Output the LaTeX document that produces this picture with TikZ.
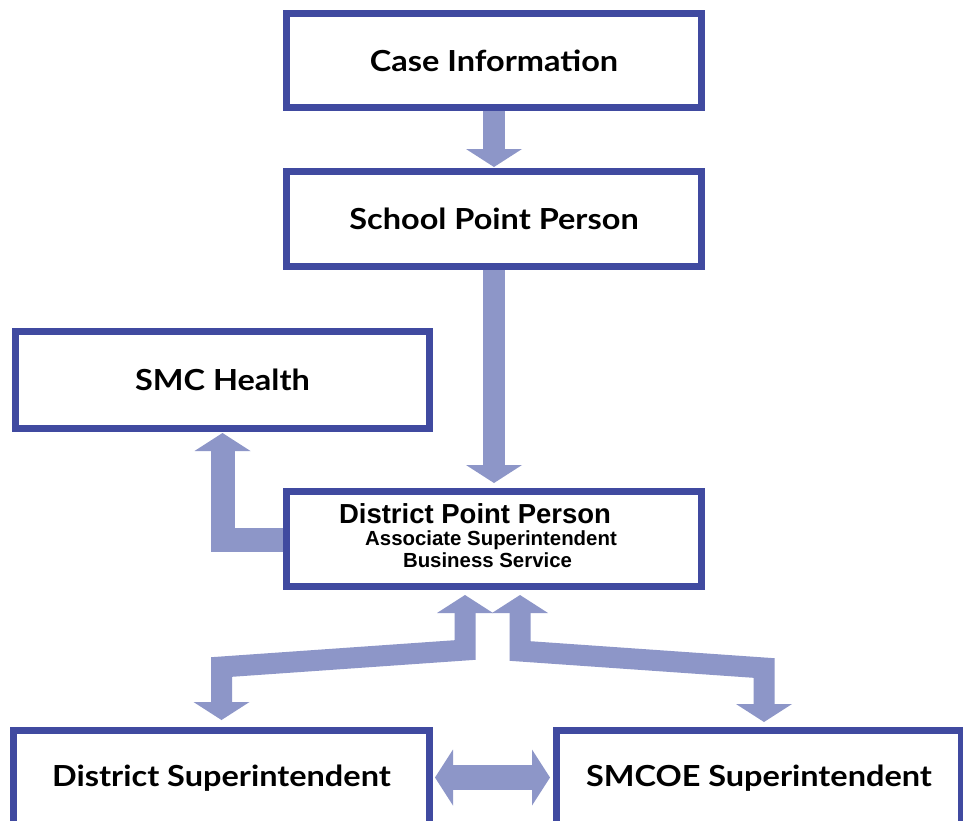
\documentclass[tikz,border=0pt]{standalone}
\usepackage{fontspec}
\setmainfont{Lato}[FakeStretch=1.12]
\newfontfamily\arialfont{Liberation Sans}
\usetikzlibrary{arrows.meta}
\definecolor{boxblue}{RGB}{64,74,160}
\definecolor{arrowblue}{RGB}{141,150,200}
\begin{document}
\begin{tikzpicture}[x=1pt,y=-1pt,
  box/.style={draw=boxblue, line width=7pt, fill=white, inner sep=0pt,
    font=\fontsize{29}{34}\selectfont\bfseries},
  dpptext/.style={inner sep=0pt, anchor=base, font=\arialfont\bfseries},
  fathead/.tip={Triangle[width=56pt 0 0, length=18pt 0 0, line width=0pt]},
  fat/.style={draw=arrowblue, line width=#1, line join=miter, line cap=butt},
]
\useasboundingbox (0,0) rectangle (963,820);
\clip (0,0) rectangle (963,820);
\fill[white] (0,0) rectangle (963,820);

% boxes
\node[box, minimum width=415pt, minimum height=94pt] (case) at (494,60.5) {Case Information};
\node[box, minimum width=415pt, minimum height=95pt] (school) at (494,219) {School Point Person};
\node[box, minimum width=414pt, minimum height=97pt] (smc) at (222.5,380) {SMC Health};
\node[box, minimum width=415pt, minimum height=95pt] (dpp) at (494,539) {};
\node[box, minimum width=416pt, minimum height=95pt] (dsup) at (221.5,778) {District Superintendent};
\node[box, minimum width=405pt, minimum height=95pt] (smcoe) at (759,778) {SMCOE Superintendent};

% district point person texts
\node[dpptext, font=\arialfont\bfseries\fontsize{27.5}{30}\selectfont] (dppa) at (475,523) {District Point Person};
\node[dpptext, font=\arialfont\bfseries\fontsize{20.4}{24}\selectfont] (dppb) at (491,545) {Associate Superintendent};
\node[dpptext, font=\arialfont\bfseries\fontsize{20.4}{24}\selectfont] (dppc) at (487.5,567) {Business Service};

% connectors
\draw[fat=22pt, -fathead] (case.south) -- ([yshift=1pt]school.north);
\draw[fat=22pt, -fathead] (school.south) -- ([yshift=5pt]dpp.north);
\draw[fat=24pt, -fathead] ([yshift=-1pt]dpp.west) -| ([yshift=-1pt]smc.south);

\coordinate (bl1) at (221.5,667);
\coordinate (bl2) at (465,650);
\draw[fat=21pt, fathead-fathead] ([yshift=7pt]dsup.north) -- (bl1) -- (bl2) -- ([xshift=-29pt,yshift=-5pt]dpp.south);

\coordinate (br1) at (520,651);
\coordinate (br2) at (764,668);
\draw[fat=21pt, fathead-fathead] ([xshift=26pt,yshift=-5pt]dpp.south) -- (br1) -- (br2) -- ([xshift=5pt,yshift=5pt]smcoe.north);

\draw[fat=25pt, fathead-fathead] ([xshift=2pt,yshift=0.5pt]dsup.east) -- ([xshift=-3pt,yshift=0.5pt]smcoe.west);
\end{tikzpicture}
\end{document}
